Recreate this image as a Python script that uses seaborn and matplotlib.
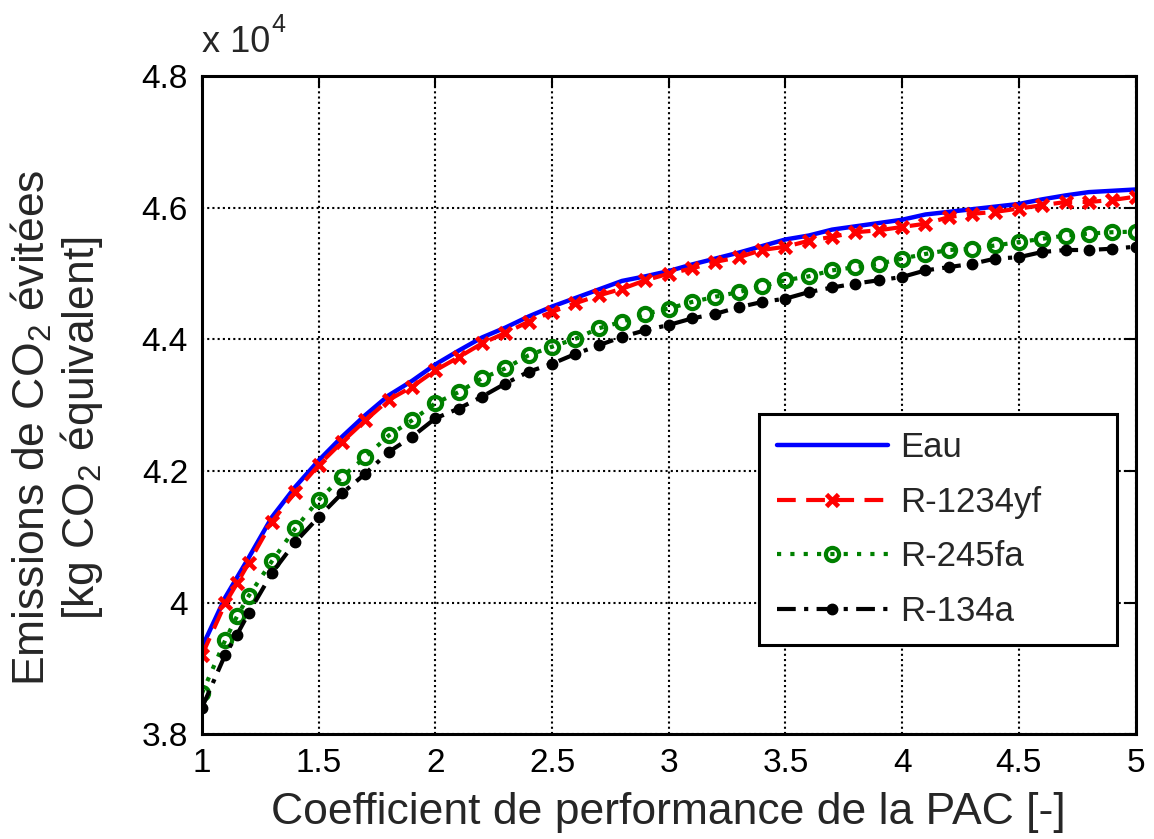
import numpy as np
import pandas as pd
import matplotlib
matplotlib.use("Agg")
import matplotlib.pyplot as plt
import seaborn as sns
from matplotlib.ticker import FuncFormatter, MultipleLocator

# Coefficient de performance (COP) of the heat pump
cop = [1.0, 1.1, 1.15, 1.2, 1.3, 1.4, 1.5, 1.6, 1.7, 1.8, 1.9,
       2.0, 2.1, 2.2, 2.3, 2.4, 2.5, 2.6, 2.7, 2.8, 2.9,
       3.0, 3.1, 3.2, 3.3, 3.4, 3.5, 3.6, 3.7, 3.8, 3.9,
       4.0, 4.1, 4.2, 4.3, 4.4, 4.5, 4.6, 4.7, 4.8, 4.9, 5.0]

# Avoided CO2 emissions, in units of 1e4 kg CO2 eq.
eau = [3.932, 4.008, 4.038, 4.068, 4.130, 4.176, 4.216, 4.252, 4.285, 4.315, 4.337,
       4.362, 4.383, 4.403, 4.418, 4.435, 4.450, 4.463, 4.476, 4.489, 4.496,
       4.504, 4.514, 4.523, 4.532, 4.542, 4.552, 4.558, 4.567, 4.572, 4.577,
       4.582, 4.590, 4.594, 4.598, 4.602, 4.606, 4.613, 4.619, 4.624, 4.626, 4.628]
r1234yf = [3.920, 3.999, 4.029, 4.060, 4.123, 4.168, 4.209, 4.244, 4.277, 4.308, 4.328,
           4.353, 4.373, 4.394, 4.410, 4.427, 4.442, 4.455, 4.467, 4.477, 4.490,
           4.500, 4.508, 4.518, 4.525, 4.536, 4.541, 4.550, 4.556, 4.563, 4.566,
           4.571, 4.576, 4.586, 4.591, 4.594, 4.599, 4.604, 4.609, 4.609, 4.612, 4.617]
r245fa = [3.862, 3.943, 3.979, 4.010, 4.063, 4.113, 4.156, 4.191, 4.221, 4.254, 4.277,
          4.303, 4.320, 4.341, 4.356, 4.376, 4.389, 4.401, 4.417, 4.427, 4.439,
          4.447, 4.457, 4.465, 4.472, 4.481, 4.490, 4.496, 4.505, 4.510, 4.515,
          4.523, 4.530, 4.536, 4.538, 4.543, 4.548, 4.553, 4.558, 4.561, 4.563, 4.564]
r134a = [3.840, 3.921, 3.951, 3.984, 4.045, 4.092, 4.130, 4.166, 4.196, 4.229, 4.252,
         4.280, 4.295, 4.313, 4.333, 4.351, 4.363, 4.378, 4.391, 4.404, 4.414,
         4.422, 4.432, 4.439, 4.449, 4.457, 4.462, 4.472, 4.479, 4.485, 4.490,
         4.495, 4.505, 4.510, 4.515, 4.523, 4.525, 4.533, 4.536, 4.536, 4.538, 4.541]

fluids = ["Eau", "R-1234yf", "R-245fa", "R-134a"]
series = [eau, r1234yf, r245fa, r134a]

df = pd.DataFrame({
    "cop": np.tile(cop, len(fluids)),
    "emissions": np.concatenate(series) * 1e4,
    "fluide": np.repeat(fluids, len(cop)),
})

sns.set_style("white")
plt.rcParams["font.family"] = ["Liberation Sans", "DejaVu Sans"]
plt.rcParams["mathtext.fontset"] = "custom"
plt.rcParams["mathtext.rm"] = "Liberation Sans"
plt.rcParams["mathtext.it"] = "Liberation Sans"

fig = plt.figure(figsize=(11.54, 8.39), dpi=100)
ax = fig.add_axes([0.175, 0.125, 0.809, 0.784])

styles = {
    "Eau": dict(color="#0000ff", linestyle="-", linewidth=3.2),
    "R-1234yf": dict(color="#ff0000", linestyle=(0, (4.5, 2.5)), linewidth=3.0,
                     marker="x", markersize=9, markeredgewidth=3.4,
                     markeredgecolor="#ff0000"),
    "R-245fa": dict(color="#008000", linestyle=(0, (1, 2.2)), linewidth=3.0,
                    marker="o", markersize=9.5, markerfacecolor="none",
                    markeredgewidth=3.0, markeredgecolor="#008000"),
    "R-134a": dict(color="#000000", linestyle=(0, (4.5, 2.0, 1, 2.0)), linewidth=3.0,
                   marker=".", markersize=15, markeredgecolor="#000000",
                   markerfacecolor="#000000", markeredgewidth=1.0),
}

for name in fluids:
    sub = df[df["fluide"] == name]
    sns.lineplot(data=sub, x="cop", y="emissions", ax=ax, sort=False,
                 estimator=None, label=name, **styles[name])

ax.set_xlim(1, 5)
ax.set_ylim(3.8e4, 4.8e4)
ax.xaxis.set_major_locator(MultipleLocator(0.5))
ax.yaxis.set_major_locator(MultipleLocator(0.2e4))
ax.xaxis.set_major_formatter(FuncFormatter(lambda v, p: f"{v:g}"))
ax.yaxis.set_major_formatter(FuncFormatter(lambda v, p: f"{v / 1e4:g}"))

ax.grid(True, color="black", linestyle=(0, (1, 1.5)), linewidth=1.5)
for s in ax.spines.values():
    s.set_color("black")
    s.set_linewidth(2.2)
ax.tick_params(direction="in", length=8, width=1.5, top=True, right=True,
               labelsize=24, pad=10, colors="black")

ax.set_xlabel("Coefficient de performance de la PAC [-]", fontsize=32, labelpad=9)
ax.set_ylabel("Emissions de CO$_2$ évitées\n[kg CO$_2$ équivalent]",
              fontsize=32, linespacing=1.1)
ax.yaxis.set_label_coords(-0.104, 0.465)

ax.text(0.0, 1.025, "x 10", transform=ax.transAxes, fontsize=26,
        ha="left", va="bottom")
ax.text(0.074, 1.06, "4", transform=ax.transAxes, fontsize=18,
        ha="left", va="bottom")

leg = ax.legend(loc="lower left", bbox_to_anchor=(0.597, 0.135, 0.383, 0.354),
                mode="expand", fontsize=25, numpoints=1, handlelength=3.2,
                handletextpad=0.35, labelspacing=0.62, borderpad=0.5,
                borderaxespad=0, fancybox=False, framealpha=1,
                edgecolor="black")
leg.get_frame().set_linewidth(2.2)

fig.savefig("out.png", dpi=100, facecolor="white")
